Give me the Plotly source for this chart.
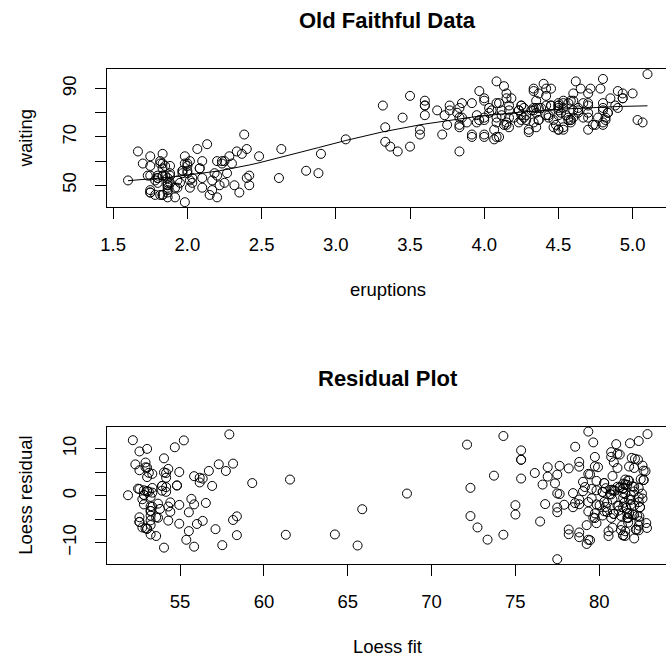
import numpy as np
import plotly.graph_objects as go

# Old Faithful data (R 'faithful')
eruptions = [3.600, 1.800, 3.333, 2.283, 4.533, 2.883, 4.700, 3.600, 1.950, 4.350,
             1.833, 3.917, 4.200, 1.750, 4.700, 2.167, 1.750, 4.800, 1.600, 4.250,
             1.800, 1.750, 3.450, 3.067, 4.533, 3.600, 1.967, 4.083, 3.850, 4.433,
             4.300, 4.467, 3.367, 4.033, 3.833, 2.017, 1.867, 4.833, 1.833, 4.783,
             4.350, 1.883, 4.567, 1.750, 4.533, 3.317, 3.833, 2.100, 4.633, 2.000,
             4.800, 4.716, 1.833, 4.833, 1.733, 4.883, 3.717, 1.667, 4.567, 4.317,
             2.233, 4.500, 1.750, 4.800, 1.817, 4.400, 4.167, 4.700, 2.067, 4.700,
             4.033, 1.967, 4.500, 4.000, 1.983, 5.067, 2.017, 4.567, 3.883, 3.600,
             4.133, 4.333, 4.100, 2.633, 4.067, 4.933, 3.950, 4.517, 2.167, 4.000,
             2.200, 4.333, 1.867, 4.817, 1.833, 4.300, 4.667, 3.750, 1.867, 4.900,
             2.483, 4.367, 2.100, 4.500, 4.050, 1.867, 4.700, 1.783, 4.850, 3.683,
             4.733, 2.300, 4.900, 4.417, 1.700, 4.633, 2.317, 4.600, 1.817, 4.417,
             2.617, 4.067, 4.250, 1.967, 4.600, 3.767, 1.917, 4.500, 2.267, 4.650,
             1.867, 4.167, 2.800, 4.333, 1.833, 4.383, 1.883, 4.933, 2.033, 3.733,
             4.233, 2.233, 4.533, 4.817, 4.333, 1.983, 4.633, 2.017, 5.100, 1.800,
             5.033, 4.000, 2.400, 4.600, 3.567, 4.000, 4.500, 4.083, 1.800, 3.967,
             2.200, 4.150, 2.000, 3.833, 3.500, 4.583, 2.367, 5.000, 1.933, 4.617,
             1.917, 2.083, 4.583, 3.333, 4.167, 4.333, 4.500, 2.417, 4.000, 4.167,
             1.883, 4.583, 4.250, 3.767, 2.033, 4.433, 4.083, 1.833, 4.417, 2.183,
             4.800, 1.833, 4.800, 4.100, 3.966, 4.233, 3.500, 4.366, 2.250, 4.667,
             2.100, 4.350, 4.133, 1.867, 4.600, 1.783, 4.367, 3.850, 1.933, 4.500,
             2.383, 4.700, 1.867, 3.833, 3.417, 4.233, 2.400, 4.800, 2.000, 4.150,
             1.867, 4.267, 1.750, 4.483, 4.000, 4.117, 4.083, 4.267, 3.917, 4.550,
             4.083, 2.417, 4.183, 2.217, 4.450, 1.883, 1.850, 4.283, 3.950, 2.333,
             4.150, 2.350, 4.933, 2.900, 4.583, 3.833, 2.083, 4.367, 2.133, 4.350,
             2.200, 4.450, 3.567, 4.500, 4.150, 3.817, 3.917, 4.450, 2.000, 4.283,
             4.767, 4.533, 1.850, 4.250, 1.983, 2.250, 4.750, 4.117, 2.150, 4.417,
             1.817, 4.467]

waiting = [79, 54, 74, 62, 85, 55, 88, 85, 51, 85,
           54, 84, 78, 47, 83, 52, 62, 84, 52, 79,
           51, 47, 78, 69, 74, 83, 55, 76, 78, 79,
           73, 77, 66, 80, 74, 52, 48, 80, 59, 90,
           80, 58, 84, 58, 73, 83, 64, 53, 82, 59,
           75, 90, 54, 80, 54, 83, 71, 64, 77, 81,
           59, 84, 48, 82, 60, 92, 78, 78, 65, 73,
           82, 56, 79, 71, 62, 76, 60, 78, 76, 83,
           75, 82, 70, 65, 73, 88, 76, 80, 48, 86,
           60, 90, 50, 78, 63, 72, 84, 75, 51, 82,
           62, 88, 49, 83, 81, 47, 84, 52, 86, 81,
           75, 59, 89, 79, 59, 81, 50, 85, 59, 87,
           53, 69, 77, 56, 88, 81, 45, 82, 55, 90,
           45, 83, 56, 89, 46, 82, 51, 86, 53, 79,
           81, 60, 82, 77, 76, 59, 80, 49, 96, 53,
           77, 77, 65, 81, 71, 70, 81, 93, 53, 89,
           45, 86, 58, 78, 66, 76, 63, 88, 52, 93,
           49, 57, 77, 68, 81, 81, 73, 50, 85, 74,
           55, 77, 83, 83, 51, 78, 84, 46, 83, 55,
           81, 57, 76, 84, 77, 81, 87, 77, 51, 78,
           60, 82, 91, 53, 78, 46, 77, 84, 49, 83,
           71, 80, 49, 75, 64, 76, 53, 94, 55, 76,
           50, 82, 54, 75, 78, 79, 78, 78, 70, 79,
           70, 54, 86, 50, 90, 54, 54, 77, 79, 64,
           75, 47, 86, 63, 85, 82, 57, 82, 67, 74,
           54, 83, 73, 73, 88, 80, 71, 83, 56, 79,
           78, 84, 58, 83, 43, 60, 75, 81, 46, 90,
           46, 74]

top_xticks = [1.5, 2.0, 2.5, 3.0, 3.5, 4.0, 4.5, 5.0]
top_xticktext = ["1.5", "2.0", "2.5", "3.0", "3.5", "4.0", "4.5", "5.0"]
top_yticks = [50, 60, 70, 80, 90]
top_yticktext = ["50", "", "70", "", "90"]
bot_xticks = [55, 60, 65, 70, 75, 80]
bot_xticktext = ["55", "60", "65", "70", "75", "80"]
bot_yticks = [-10, -5, 0, 5, 10]
bot_yticktext = ["\u221210", "", "0", "", "10"]

# ---------------- loess (span 0.75, degree 2, kd-tree + Hermite interpolation, like R) -------------
x = np.asarray(eruptions, float)
y = np.asarray(waiting, float)
n = len(x)
span = 0.75
q = int(np.floor(n * span + 1e-5))
fc = int(np.floor(n * span * 0.2))


def local_fit(x0):
    d = np.abs(x - x0)
    h = np.sort(d)[q - 1]
    u = d / h
    w = np.where(u < 1, (1 - u ** 3) ** 3, 0.0)
    dx = x - x0
    X = np.column_stack([np.ones(n), dx, dx ** 2])
    sw = np.sqrt(w)
    beta, *_ = np.linalg.lstsq(X * sw[:, None], y * sw, rcond=None)
    return beta[0], beta[1]


xs = np.sort(x)
mu = 0.005 * (xs[-1] - xs[0])
vlo0, vhi0 = xs[0] - mu, xs[-1] + mu
leaves = []


def build(l1, u1, vlo, vhi):
    if (u1 - l1 + 1) <= fc:
        leaves.append((vlo, vhi))
        return
    m = (l1 + u1) // 2
    off = 0
    while True:
        if (m + off) >= u1 or (m + off) < l1:
            break
        if xs[m + off - 1] == xs[m + off]:
            off = -off
            if off >= 0:
                off += 1
        else:
            m = m + off
            break
    xi = xs[m - 1]
    if vlo == xi or vhi == xi:
        leaves.append((vlo, vhi))
        return
    build(l1, m, vlo, xi)
    build(m + 1, u1, xi, vhi)


build(1, n, vlo0, vhi0)
verts = sorted(set([a for a, b in leaves] + [b for a, b in leaves]))
vfit = {v: local_fit(v) for v in verts}


def interp(x0):
    for a, b in leaves:
        if a <= x0 <= b:
            g0, s0 = vfit[a]
            g1, s1 = vfit[b]
            hh = b - a
            t = (x0 - a) / hh
            phi0 = (1 - t) ** 2 * (1 + 2 * t)
            phi1 = t ** 2 * (3 - 2 * t)
            psi0 = t * (1 - t) ** 2
            psi1 = -t ** 2 * (1 - t)
            return phi0 * g0 + phi1 * g1 + (psi0 * s0 + psi1 * s1) * hh
    return local_fit(x0)[0]


fitted = np.array([interp(v) for v in x])
resid = y - fitted
order = np.argsort(x, kind="stable")

# ---------------- layout geometry ----------------
W, H = 666, 656
L_PX, R_PX = 101.3, 668.3          # R plot region (right edge falls just outside the image)
vis = (W - L_PX) / (R_PX - L_PX)


def rrange(vals):
    lo, hi = float(np.min(vals)), float(np.max(vals))
    ext = 0.04 * (hi - lo)
    return lo - ext, hi + ext


def xr(vals):
    lo, hi = rrange(vals)
    return [lo, lo + (hi - lo) * vis]


top_box = (69.0, 207.3)
bot_box = (426.5, 564.3)


def ydom(box):
    return [1 - box[1] / H, 1 - box[0] / H]


FONT = "Liberation Sans, Arial, Helvetica, sans-serif"
TICKF = dict(family=FONT, size=18.5, color="black")

fig = go.Figure()
mk = dict(symbol="circle-open", size=9, color="black", line=dict(width=1, color="black"))
fig.add_trace(go.Scatter(x=eruptions, y=waiting, mode="markers", marker=mk,
                         xaxis="x", yaxis="y", hoverinfo="skip"))
fig.add_trace(go.Scatter(x=x[order], y=fitted[order], mode="lines",
                         line=dict(color="black", width=1), xaxis="x", yaxis="y", hoverinfo="skip"))
fig.add_trace(go.Scatter(x=fitted, y=resid, mode="markers", marker=mk,
                         xaxis="x2", yaxis="y2", hoverinfo="skip"))

axcommon = dict(showline=True, linecolor="black", linewidth=1, ticks="outside", ticklen=11,
                tickwidth=1, tickcolor="black", showgrid=False, zeroline=False,
                tickfont=TICKF, tickmode="array")

fig.update_layout(
    width=W, height=H, margin=dict(l=0, r=0, t=0, b=0),
    paper_bgcolor="white", plot_bgcolor="white", showlegend=False,
    font=dict(family=FONT, color="black"),
    xaxis=dict(domain=[L_PX / W, 1.0], range=xr(eruptions), anchor="y", mirror=True,
               tickvals=top_xticks, ticktext=top_xticktext, ticklabelstandoff=9, **axcommon),
    yaxis=dict(domain=ydom(top_box), range=list(rrange(waiting)), anchor="x", mirror=False,
               tickvals=top_yticks, ticktext=top_yticktext, tickangle=-90,
               ticklabelstandoff=12, **axcommon),
    xaxis2=dict(domain=[L_PX / W, 1.0], range=xr(fitted), anchor="y2", mirror=True,
                tickvals=bot_xticks, ticktext=bot_xticktext, ticklabelstandoff=9, **axcommon),
    yaxis2=dict(domain=ydom(bot_box), range=list(rrange(resid)), anchor="x2", mirror=False,
                tickvals=bot_yticks, ticktext=bot_yticktext, tickangle=-90,
                ticklabelstandoff=12, **axcommon),
)


def ann(text, xpx, ypx, size, angle=0):
    return dict(text=text, x=xpx / W, y=1 - ypx / H, xref="paper", yref="paper",
                showarrow=False, xanchor="center", yanchor="middle", textangle=angle,
                font=dict(family=FONT, size=size, color="black"))


CX = (L_PX + R_PX) / 2
annotations = [
    ann("<b>Old Faithful Data</b>", CX, 21, 22),
    ann("eruptions", CX, 289.5, 18.5),
    ann("waiting", 18.5, sum(top_box) / 2, 18.5, -90),
    ann("<b>Residual Plot</b>", CX, 378, 22),
    ann("Loess fit", CX, 646.5, 18.5),
    ann("Loess residual", 18.5, sum(bot_box) / 2, 18.5, -90),
]
fig.update_layout(annotations=annotations)

fig.write_html("out.html", config={"displayModeBar": False},
               post_script="document.body.style.margin='0px';")
